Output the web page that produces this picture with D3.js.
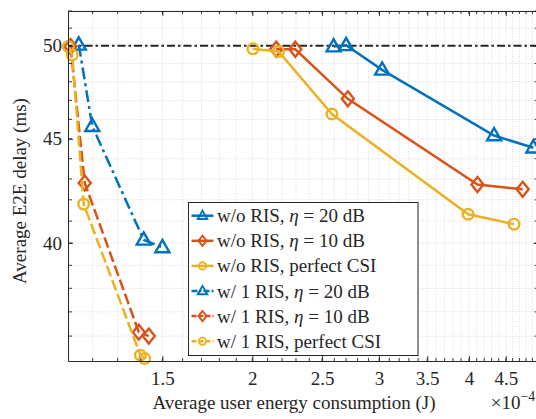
<!DOCTYPE html>
<html><head><meta charset="utf-8">
<script src="https://cdn.jsdelivr.net/npm/d3@7/dist/d3.min.js"></script>
<style>
html,body{margin:0;padding:0;background:#fff;}
svg text{font-family:"Liberation Serif","DejaVu Serif","Noto Serif",serif !important;fill:#262626;}
</style></head>
<body><svg id="c" width="536" height="419"></svg>
<script>
// ---- data (energy in units of 1e-4 J, delay in ms) ----
const seriesNames = ["w/o RIS, η = 20 dB","w/o RIS, η = 10 dB","w/o RIS, perfect CSI",
                     "w/ 1 RIS, η = 20 dB","w/ 1 RIS, η = 10 dB","w/ 1 RIS, perfect CSI"];
const woRis20_x = [2.594, 2.70, 3.03, 4.335, 4.915];
const woRis20_y = [49.95, 50.02, 48.65, 45.17, 44.55];
const woRis10_x = [2.159, 2.295, 2.715, 4.11, 4.75];
const woRis10_y = [49.80, 49.80, 47.08, 42.73, 42.50];
const woRisCsi_x = [2.004, 2.175, 2.58, 3.99, 4.62];
const woRisCsi_y = [49.82, 49.67, 46.28, 41.32, 40.86];
const ris20_x = [1.148, 1.1985, 1.413, 1.50];
const ris20_y = [50.05, 45.65, 40.14, 39.80];
const ris10_x = [1.118, 1.170, 1.391, 1.436];
const ris10_y = [49.95, 42.81, 36.16, 36.00];
const risCsi_x = [1.110, 1.124, 1.166, 1.398, 1.4175];
const risCsi_y = [49.95, 49.48, 41.80, 35.23, 35.10];
const refDelay = 50;
const xTickLabels = [1.5, 2, 2.5, 3, 3.5, 4, 4.5];
const yTickLabels = [40, 45, 50];
const xMinorTicks = d3.range(12, 51).map(v => v / 10);
const yMinorTicks = d3.range(36, 53);

const colors = ["#0072BD","#D95319","#EDB120","#0072BD","#D95319","#EDB120"];
const markers = ["tri","dia","circ","tri","dia","circ"];
const dashes = [null,null,null,"12,4,3,4","11,4","11,4"];
const allX = [woRis20_x, woRis10_x, woRisCsi_x, ris20_x, ris10_x, risCsi_x];
const allY = [woRis20_y, woRis10_y, woRisCsi_y, ris20_y, ris10_y, risCsi_y];

const L = 68, R = 538.7, T = 11, B = 361;
const FS = 19;
const x = d3.scaleLog().domain([1.109, 5]).range([L, R]);
const y = d3.scaleLog().domain([35, 52]).range([B, T]);

const svg = d3.select("#c");
const defs = svg.append("defs");
defs.append("clipPath").attr("id","clip").append("rect")
  .attr("x",L).attr("y",T).attr("width",R-L).attr("height",B-T);

// grid
const grid = svg.append("g").attr("stroke","#d4d4d4").attr("stroke-width",0.8).attr("stroke-dasharray","1,1.5");
grid.selectAll("line.v").data(xMinorTicks).join("line")
  .attr("x1",d=>x(d)).attr("x2",d=>x(d)).attr("y1",T).attr("y2",B);
grid.selectAll("line.h").data(yMinorTicks).join("line")
  .attr("y1",d=>y(d)).attr("y2",d=>y(d)).attr("x1",L).attr("x2",R);

// reference line
svg.append("line").attr("x1",L).attr("x2",R).attr("y1",y(refDelay)).attr("y2",y(refDelay))
  .attr("stroke","#262626").attr("stroke-width",2).attr("stroke-dasharray","8,3,2.5,3");

function markerPath(type){
  if(type==="tri") return "M0,-7.5L7,4.8L-7,4.8Z";
  if(type==="dia") return "M0,-7.5L6,0L0,7.5L-6,0Z";
  return d3.arc()({innerRadius:0,outerRadius:5.3,startAngle:0,endAngle:2*Math.PI});
}

// series
const line = d3.line().x(d=>x(d[0])).y(d=>y(d[1]));
allX.forEach((xs,i)=>{
  const pts = xs.map((v,j)=>[v, allY[i][j]]);
  const g = svg.append("g");
  g.append("path").attr("d",line(pts)).attr("fill","none").attr("stroke",colors[i])
   .attr("stroke-width",2.5).attr("stroke-dasharray",dashes[i]).attr("clip-path","url(#clip)");
  g.selectAll("path.m").data(pts).join("path").attr("class","m")
   .attr("d",markerPath(markers[i]))
   .attr("transform",d=>`translate(${x(d[0])},${y(d[1])})`)
   .attr("fill","none").attr("stroke",colors[i]).attr("stroke-width",2.4);
});

// axes
const fmt = d => String(d);
const axB = svg.append("g").attr("transform",`translate(0,${B})`)
  .call(d3.axisBottom(x).tickValues(xTickLabels).tickFormat(fmt).tickSizeInner(-5).tickSizeOuter(0).tickPadding(11));
axB.append("g").selectAll("line").data(xMinorTicks).join("line")
  .attr("x1",d=>x(d)).attr("x2",d=>x(d)).attr("y1",0).attr("y2",-3);
const axT = svg.append("g").attr("transform",`translate(0,${T})`)
  .call(d3.axisTop(x).tickValues(xTickLabels).tickFormat("").tickSizeInner(-5).tickSizeOuter(0));
axT.append("g").selectAll("line").data(xMinorTicks).join("line")
  .attr("x1",d=>x(d)).attr("x2",d=>x(d)).attr("y1",0).attr("y2",3);
const axLft = svg.append("g").attr("transform",`translate(${L},0)`)
  .call(d3.axisLeft(y).tickValues(yTickLabels).tickFormat(fmt).tickSizeInner(-5).tickSizeOuter(0).tickPadding(6));
axLft.append("g").selectAll("line").data(yMinorTicks).join("line")
  .attr("y1",d=>y(d)).attr("y2",d=>y(d)).attr("x1",0).attr("x2",4);
const axRt = svg.append("g").attr("transform",`translate(${R},0)`)
  .call(d3.axisRight(y).tickValues(yTickLabels).tickFormat("").tickSizeInner(-5).tickSizeOuter(0));
axRt.append("g").selectAll("line").data(yMinorTicks).join("line")
  .attr("y1",d=>y(d)).attr("y2",d=>y(d)).attr("x1",0).attr("x2",-4);
[axB,axT,axLft,axRt].forEach(a=>{
  a.attr("font-family",null).attr("font-size",null);
  a.selectAll("path.domain").attr("stroke","#262626").attr("stroke-width",1);
  a.selectAll("line").attr("stroke","#262626").attr("stroke-width",0.9);
  a.selectAll("text").attr("font-size",FS).attr("fill","#262626");
});

// axis labels
svg.append("text").attr("x",294).attr("y",409).attr("text-anchor","middle").attr("font-size",FS)
  .text("Average user energy consumption (J)");
const ex = svg.append("text").attr("x",535).attr("y",409).attr("text-anchor","end").attr("font-size",FS);
ex.append("tspan").text("×10");
ex.append("tspan").attr("dy",-8).attr("font-size",FS*0.72).text("−4");
svg.append("text").attr("transform","translate(26,191) rotate(-90)").attr("text-anchor","middle")
  .attr("font-size",FS).text("Average E2E delay (ms)");

// legend
const lg = svg.append("g");
lg.append("rect").attr("x",188.5).attr("y",202.5).attr("width",229.5).attr("height",153)
  .attr("fill","#fff").attr("stroke","#262626").attr("stroke-width",1);
seriesNames.forEach((name,i)=>{
  const cy = 215.7 + i*25.1;
  lg.append("line").attr("x1",191.5).attr("x2",213.5).attr("y1",cy).attr("y2",cy)
    .attr("stroke",colors[i]).attr("stroke-width",2.5).attr("stroke-dasharray", dashes[i] ? (i===3?"6,2,2,2":"5,2") : null);
  lg.append("path").attr("d",markerPath(markers[i])).attr("transform",`translate(202.5,${cy}) scale(0.68)`)
    .attr("fill","none").attr("stroke",colors[i]).attr("stroke-width",2.8);
  const t = lg.append("text").attr("x",217).attr("y",cy+6.5).attr("font-size",FS);
  const parts = name.split("η");
  t.append("tspan").text(parts[0]);
  if(parts.length>1){
    t.append("tspan").attr("font-style","italic").text("η");
    t.append("tspan").text(parts[1]);
  }
});
</script></body></html>
